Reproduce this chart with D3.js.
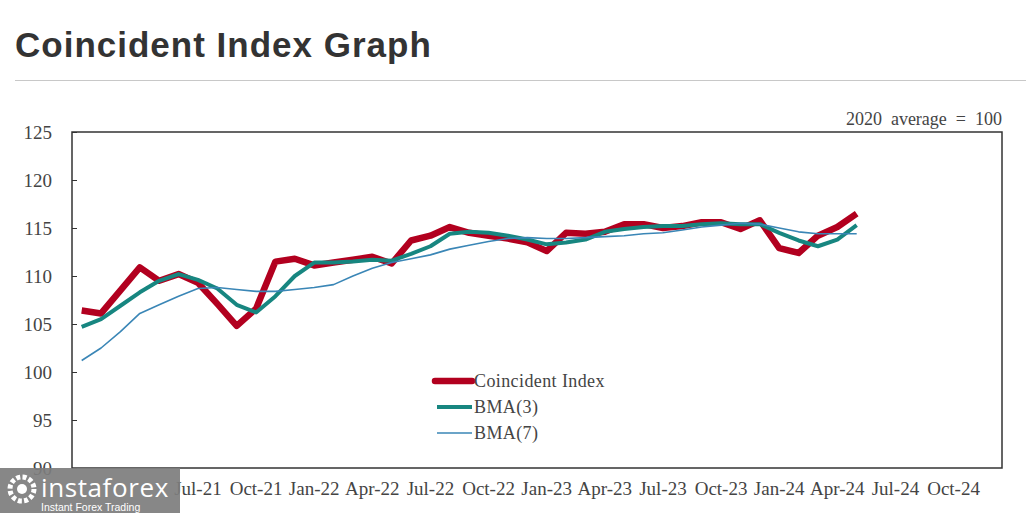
<!DOCTYPE html>
<html>
<head>
<meta charset="utf-8">
<script src="https://cdn.jsdelivr.net/npm/d3@7"></script>
<style>
  html, body { margin: 0; padding: 0; background: #fff; }
  svg { display: block; }
</style>
</head>
<body>
<svg id="chart" width="1026" height="513"></svg>
<script>
// ---- data ----
const years = ["21", "22", "23", "24"];
const monthNames = ["Jan","Feb","Mar","Apr","May","Jun","Jul","Aug","Sep","Oct","Nov","Dec"];
const categories = [];
years.forEach(y => monthNames.forEach(m => categories.push(m + "-" + y)));

// Jan-21 and Apr-21 labels are hidden under the watermark in the reference
const tickLabels = ["Jul-21","Oct-21","Jan-22","Apr-22","Jul-22","Oct-22",
                    "Jan-23","Apr-23","Jul-23","Oct-23","Jan-24","Apr-24","Jul-24","Oct-24"];
const yTicks = [90, 95, 100, 105, 110, 115, 120, 125];

const coincidentIndex = [106.4, 106.1, 108.5, 110.9, 109.5, 110.2, 109.3, 107.1, 104.8, 106.6,
  111.5, 111.8, 111.1, 111.4, 111.7, 112.0, 111.3, 113.7, 114.2, 115.1, 114.5, 114.2, 113.9,
  113.5, 112.6, 114.5, 114.4, 114.6, 115.4, 115.4, 115.0, 115.2, 115.6, 115.6, 114.9, 115.8,
  112.9, 112.4, 114.2, 115.1, 116.5];
const bma3 = [104.7, 105.5, 106.9, 108.3, 109.5, 110.2, 109.6, 108.7, 107.0, 106.2, 107.9,
  110.0, 111.4, 111.4, 111.5, 111.7, 111.6, 112.3, 113.1, 114.4, 114.6, 114.5, 114.2, 113.8,
  113.3, 113.5, 113.8, 114.6, 114.9, 115.1, 115.2, 115.2, 115.4, 115.5, 115.4, 115.4, 114.5,
  113.7, 113.1, 113.8, 115.3];
const bma7 = [101.2, 102.5, 104.2, 106.1, 107.0, 107.9, 108.7, 108.8, 108.6, 108.4, 108.4,
  108.6, 108.8, 109.1, 110.0, 110.8, 111.4, 111.8, 112.2, 112.8, 113.2, 113.6, 113.9, 114.0,
  113.9, 113.9, 114.0, 114.1, 114.2, 114.4, 114.5, 114.8, 115.1, 115.3, 115.5, 115.4, 115.0,
  114.6, 114.4, 114.4, 114.4];

const seriesNames = ["Coincident Index", "BMA(3)", "BMA(7)"];

// ---- layout ----
const svg = d3.select("#chart");
const L = 72, R = 1002, T = 132, B = 468;

// Title
svg.append("text")
  .attr("x", 15).attr("y", 57)
  .attr("font-family", "'Liberation Sans', Arial, sans-serif")
  .attr("font-weight", "bold")
  .attr("font-size", 35)
  .attr("letter-spacing", 1)
  .attr("fill", "#333")
  .text("Coincident Index Graph");

svg.append("line")
  .attr("x1", 15).attr("x2", 1026).attr("y1", 80.5).attr("y2", 80.5)
  .attr("stroke", "#c8c8c8").attr("stroke-width", 1);

const x = d3.scaleBand().domain(categories).range([L, R]).padding(0);
const y = d3.scaleLinear().domain([90, 125]).range([B, T]);
const xc = d => x(d) + x.bandwidth() / 2;

const serif = "'Liberation Serif', 'DejaVu Serif', serif";

// Y axis (ticks inside)
const yAxis = d3.axisLeft(y).tickValues(yTicks).tickSize(-5).tickPadding(20).tickFormat(d3.format("d"));
const gy = svg.append("g").attr("transform", `translate(${L},0)`).call(yAxis);
gy.select(".domain").remove();
gy.selectAll(".tick line").attr("stroke", "#333").attr("stroke-width", 1);
gy.selectAll(".tick text")
  .attr("font-family", serif).attr("font-size", 19).attr("fill", "#444").attr("dy", "0.33em");

// X axis (labels only)
const xAxis = d3.axisBottom(x).tickValues(tickLabels).tickSize(0).tickPadding(14);
const gx = svg.append("g").attr("transform", `translate(0,${B})`).call(xAxis);
gx.select(".domain").remove();
gx.selectAll(".tick text")
  .attr("font-family", serif).attr("font-size", 19).attr("fill", "#444");

// Lines
const line = d3.line()
  .x((d, i) => xc(categories[i]))
  .y(d => y(d));

const styles = [
  { data: coincidentIndex, color: "#b2001f", width: 6.5 },
  { data: bma3, color: "#178680", width: 4 },
  { data: bma7, color: "#3a86b6", width: 1.6 }
];

styles.forEach(s => {
  svg.append("path")
    .datum(s.data)
    .attr("d", line)
    .attr("fill", "none")
    .attr("stroke", s.color)
    .attr("stroke-width", s.width)
    .attr("stroke-linejoin", "round")
    .attr("stroke-linecap", "butt");
});

// Plot frame
svg.append("rect")
  .attr("x", L).attr("y", T).attr("width", R - L).attr("height", B - T)
  .attr("fill", "none").attr("stroke", "#333").attr("stroke-width", 1.5);

// Base note
svg.append("text")
  .attr("x", R).attr("y", 125)
  .attr("text-anchor", "end")
  .attr("xml:space", "preserve")
  .style("white-space", "pre")
  .attr("font-family", serif).attr("font-size", 18).attr("fill", "#444")
  .text("2020  average  =  100");

// Legend
const legend = svg.append("g").attr("transform", "translate(433,381)");
styles.forEach((s, i) => {
  const g = legend.append("g").attr("transform", `translate(0,${i * 26})`);
  g.append("line").attr("x1", i === 0 ? 2 : 4).attr("x2", 39).attr("y1", 0).attr("y2", 0)
    .attr("stroke", s.color).attr("stroke-width", s.width)
    .attr("stroke-linecap", i === 0 ? "round" : "butt");
  g.append("text").attr("x", 41).attr("y", 6)
    .attr("font-family", serif).attr("font-size", 18).attr("letter-spacing", 0.4)
    .attr("fill", "#444")
    .text(seriesNames[i]);
});

// Watermark overlay
const wm = svg.append("g");
wm.append("rect").attr("x", 0).attr("y", 468).attr("width", 180).attr("height", 45)
  .attr("fill", "#7d7d7d").attr("opacity", 0.92);
wm.append("circle").attr("cx", 22).attr("cy", 489).attr("r", 12)
  .attr("fill", "none").attr("stroke", "#fff").attr("stroke-width", 5).attr("stroke-dasharray", "4 2.3");
wm.append("circle").attr("cx", 22).attr("cy", 489).attr("r", 5).attr("fill", "#fff");
wm.append("text").attr("x", 41).attr("y", 497)
  .attr("font-family", "'Open Sans', 'Liberation Sans', sans-serif")
  .attr("font-size", 26).attr("letter-spacing", 0.6).attr("fill", "#fff").text("instaforex");
wm.append("text").attr("x", 41).attr("y", 511)
  .attr("font-family", "'Liberation Sans', Arial, sans-serif")
  .attr("font-size", 10.5).attr("fill", "#fff").text("Instant Forex Trading");
</script>
</body>
</html>
